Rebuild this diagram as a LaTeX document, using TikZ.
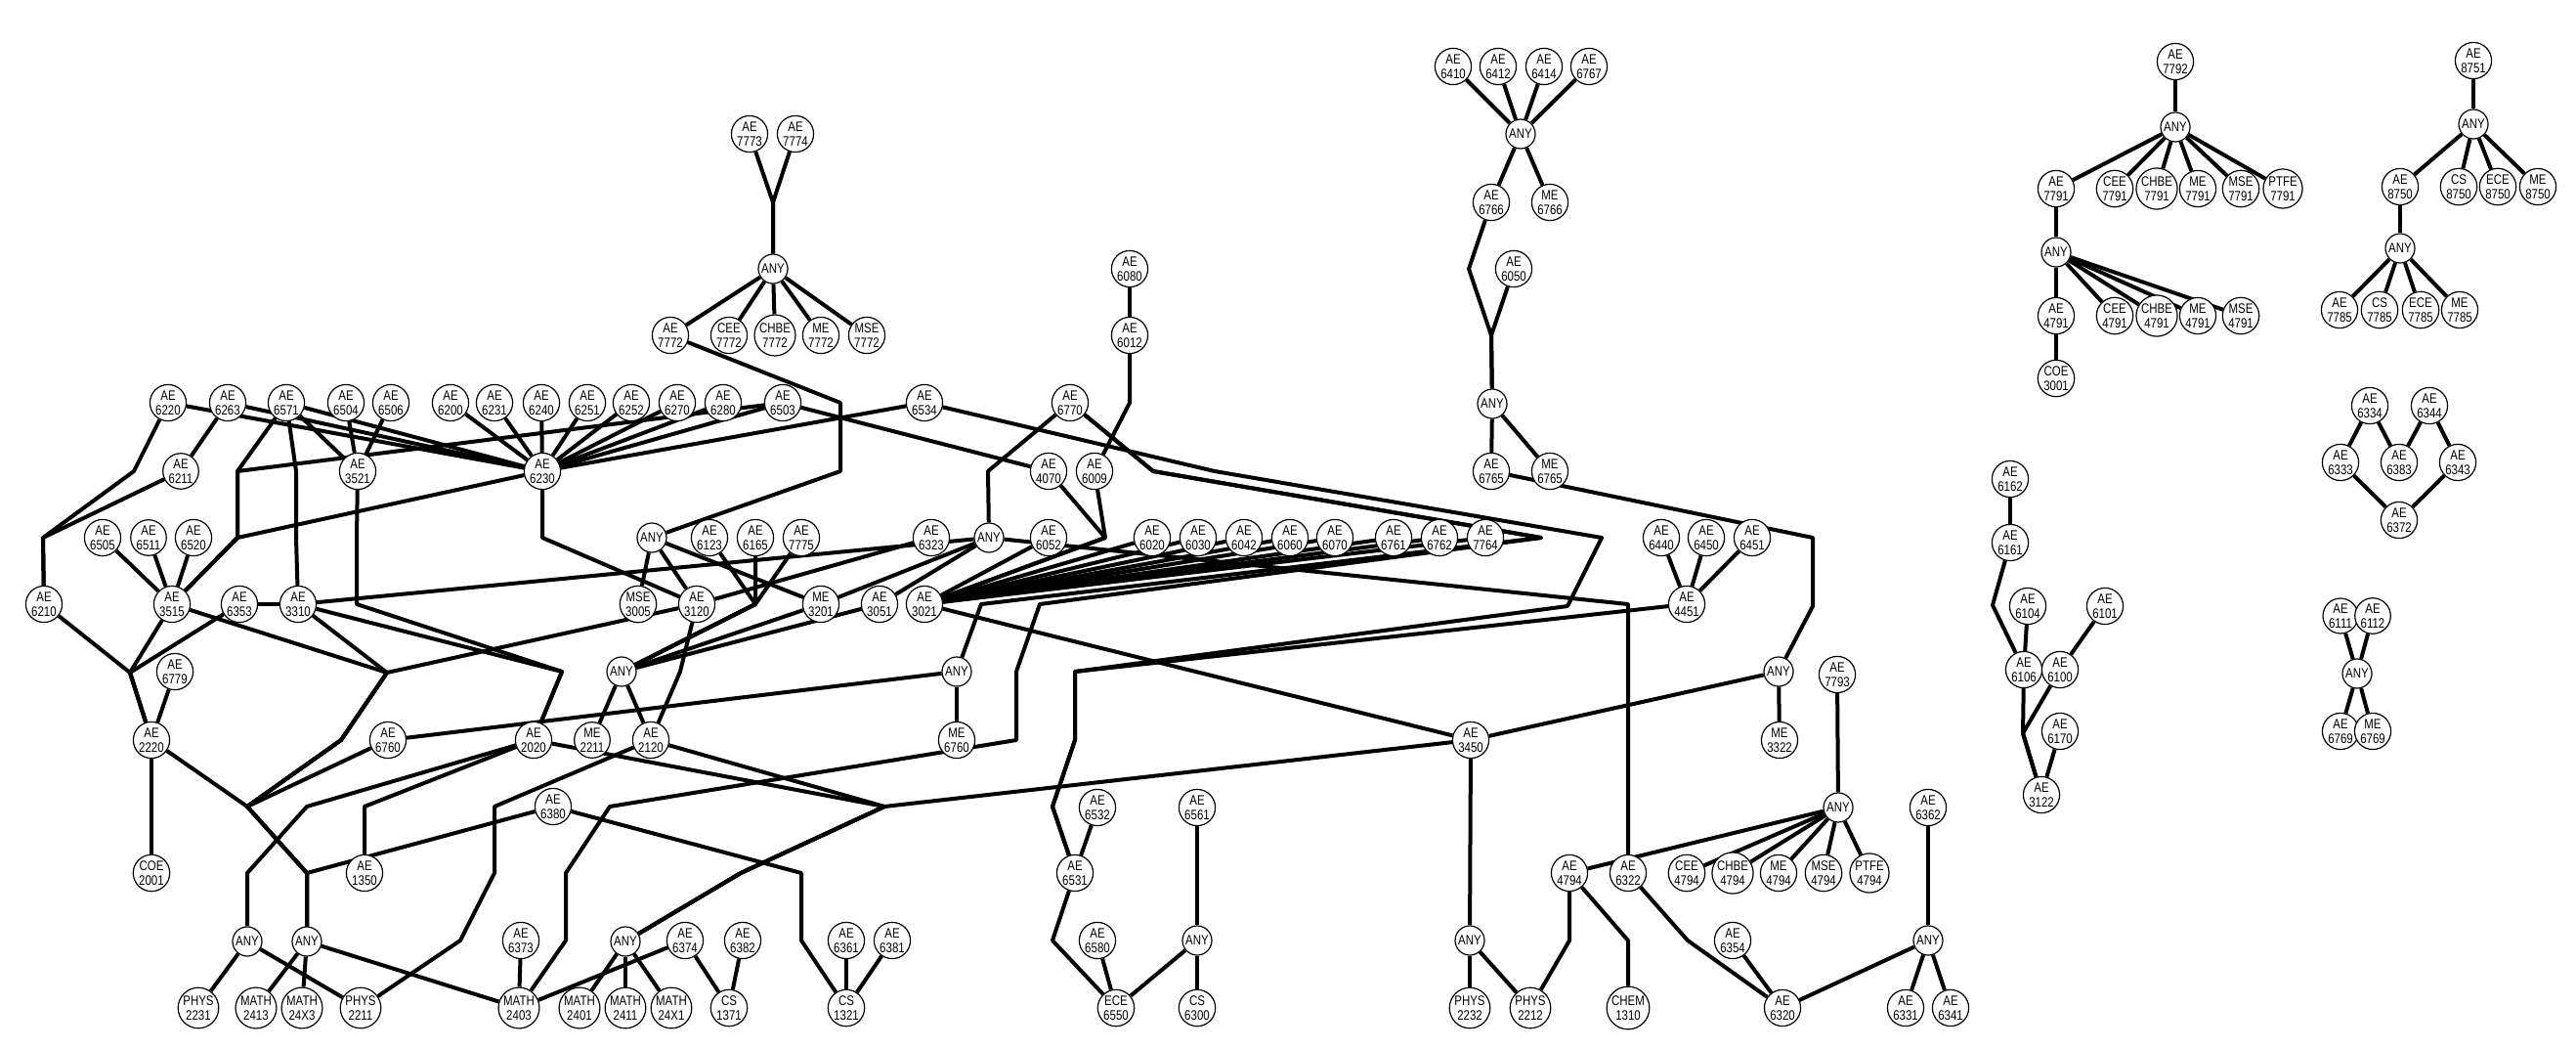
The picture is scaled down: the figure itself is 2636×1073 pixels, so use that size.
\documentclass[tikz,border=0pt]{standalone}
\usepackage{fontspec}
\setmainfont{Liberation Sans}[FakeStretch=0.82]
\usetikzlibrary{shapes.geometric}
\pgfdeclarelayer{bg}
\pgfsetlayers{bg,main}
\tikzset{
  crs/.style={circle, draw=black, line width=1.2pt, fill=white, inner sep=0.6pt, minimum size=30pt, align=center, font=\fontsize{14}{15}\selectfont},
  link/.style={line width=4pt, line join=round}
}

\begin{document}
\begin{tikzpicture}[x=1pt,y=-1pt]
\useasboundingbox (0,0) rectangle (2636,1073);
\node[crs] (ae6410) at (1487,68) {AE\\6410};
\node[crs] (ae6412) at (1533,68) {AE\\6412};
\node[crs] (ae6414) at (1580,68) {AE\\6414};
\node[crs] (ae6767) at (1626,68) {AE\\6767};
\node[crs] (ae7792) at (2226,63) {AE\\7792};
\node[crs] (ae8751) at (2531,62) {AE\\8751};
\node[crs] (ae7773) at (767,137) {AE\\7773};
\node[crs] (ae7774) at (814,137) {AE\\7774};
\node[crs] (anyM) at (1556,137) {ANY};
\node[crs] (anyP) at (2226,130) {ANY};
\node[crs] (anyQ) at (2531,127) {ANY};
\node[crs] (ae6766) at (1526,207) {AE\\6766};
\node[crs] (me6766) at (1586,207) {ME\\6766};
\node[crs] (ae7791) at (2104,193) {AE\\7791};
\node[crs] (cee7791) at (2164,193) {CEE\\7791};
\node[crs] (chbe7791) at (2207,193) {CHBE\\7791};
\node[crs] (me7791) at (2249,193) {ME\\7791};
\node[crs] (mse7791) at (2293,193) {MSE\\7791};
\node[crs] (ptfe7791) at (2336,193) {PTFE\\7791};
\node[crs] (ae8750) at (2456,191) {AE\\8750};
\node[crs] (cs8750) at (2516,191) {CS\\8750};
\node[crs] (ece8750) at (2556,191) {ECE\\8750};
\node[crs] (me8750) at (2597,191) {ME\\8750};
\node[crs] (any7772) at (791,275) {ANY};
\node[crs] (ae6080) at (1156,275) {AE\\6080};
\node[crs] (ae6050) at (1549,275) {AE\\6050};
\node[crs] (anyR) at (2104,258) {ANY};
\node[crs] (anyS) at (2456,254) {ANY};
\node[crs] (ae7772) at (686,343) {AE\\7772};
\node[crs] (cee7772) at (746,343) {CEE\\7772};
\node[crs] (chbe7772) at (793,343) {CHBE\\7772};
\node[crs] (me7772) at (840,343) {ME\\7772};
\node[crs] (mse7772) at (887,343) {MSE\\7772};
\node[crs] (ae6012) at (1156,343) {AE\\6012};
\node[crs] (ae4791) at (2104,323) {AE\\4791};
\node[crs] (cee4791) at (2164,323) {CEE\\4791};
\node[crs] (chbe4791) at (2207,323) {CHBE\\4791};
\node[crs] (me4791) at (2249,323) {ME\\4791};
\node[crs] (mse4791) at (2293,323) {MSE\\4791};
\node[crs] (ae7785) at (2394,317) {AE\\7785};
\node[crs] (cs7785) at (2435,317) {CS\\7785};
\node[crs] (ece7785) at (2477,317) {ECE\\7785};
\node[crs] (me7785) at (2517,317) {ME\\7785};
\node[crs] (ae6220) at (172,412) {AE\\6220};
\node[crs] (ae6263) at (233,412) {AE\\6263};
\node[crs] (ae6571) at (293,412) {AE\\6571};
\node[crs] (ae6504) at (354,412) {AE\\6504};
\node[crs] (ae6506) at (400,412) {AE\\6506};
\node[crs] (ae6200) at (461,412) {AE\\6200};
\node[crs] (ae6231) at (506,412) {AE\\6231};
\node[crs] (ae6240) at (554,412) {AE\\6240};
\node[crs] (ae6251) at (601,412) {AE\\6251};
\node[crs] (ae6252) at (646,412) {AE\\6252};
\node[crs] (ae6270) at (693,412) {AE\\6270};
\node[crs] (ae6280) at (740,412) {AE\\6280};
\node[crs] (ae6503) at (801,412) {AE\\6503};
\node[crs] (ae6534) at (946,412) {AE\\6534};
\node[crs] (ae6770) at (1095,412) {AE\\6770};
\node[crs] (anyN) at (1527,413) {ANY};
\node[crs] (coe3001) at (2104,387) {COE\\3001};
\node[crs] (ae6334) at (2425,415) {AE\\6334};
\node[crs] (ae6344) at (2486,415) {AE\\6344};
\node[crs] (ae6211) at (185,482) {AE\\6211};
\node[crs] (ae3521) at (366,482) {AE\\3521};
\node[crs] (ae6230) at (555,482) {AE\\6230};
\node[crs] (ae4070) at (1073,482) {AE\\4070};
\node[crs] (ae6009) at (1120,482) {AE\\6009};
\node[crs] (ae6765) at (1526,482) {AE\\6765};
\node[crs] (me6765) at (1586,482) {ME\\6765};
\node[crs] (ae6333) at (2395,473) {AE\\6333};
\node[crs] (ae6383) at (2455,473) {AE\\6383};
\node[crs] (ae6343) at (2515,473) {AE\\6343};
\node[crs] (ae6162) at (2057,490) {AE\\6162};
\node[crs] (ae6505) at (105,550) {AE\\6505};
\node[crs] (ae6511) at (152,550) {AE\\6511};
\node[crs] (ae6520) at (198,550) {AE\\6520};
\node[crs] (anyA) at (667,550) {ANY};
\node[crs] (ae6123) at (726,550) {AE\\6123};
\node[crs] (ae6165) at (773,550) {AE\\6165};
\node[crs] (ae7775) at (820,550) {AE\\7775};
\node[crs] (ae6323) at (953,550) {AE\\6323};
\node[crs] (anyB) at (1012,550) {ANY};
\node[crs] (ae6052) at (1073,550) {AE\\6052};
\node[crs] (ae6020) at (1179,550) {AE\\6020};
\node[crs] (ae6030) at (1226,550) {AE\\6030};
\node[crs] (ae6042) at (1273,550) {AE\\6042};
\node[crs] (ae6060) at (1320,550) {AE\\6060};
\node[crs] (ae6070) at (1366,550) {AE\\6070};
\node[crs] (ae6761) at (1426,550) {AE\\6761};
\node[crs] (ae6762) at (1473,550) {AE\\6762};
\node[crs] (ae7764) at (1520,550) {AE\\7764};
\node[crs] (ae6440) at (1700,550) {AE\\6440};
\node[crs] (ae6450) at (1746,550) {AE\\6450};
\node[crs] (ae6451) at (1793,550) {AE\\6451};
\node[crs] (ae6372) at (2455,532) {AE\\6372};
\node[crs] (ae6161) at (2057,555) {AE\\6161};
\node[crs] (ae6210) at (45,618) {AE\\6210};
\node[crs] (ae3515) at (176,618) {AE\\3515};
\node[crs] (ae6353) at (245,618) {AE\\6353};
\node[crs] (ae3310) at (305,618) {AE\\3310};
\node[crs] (mse3005) at (653,618) {MSE\\3005};
\node[crs] (ae3120) at (713,618) {AE\\3120};
\node[crs] (me3201) at (840,618) {ME\\3201};
\node[crs] (ae3051) at (900,618) {AE\\3051};
\node[crs] (ae3021) at (946,618) {AE\\3021};
\node[crs] (ae4451) at (1726,618) {AE\\4451};
\node[crs] (ae6104) at (2075,620) {AE\\6104};
\node[crs] (ae6101) at (2154,620) {AE\\6101};
\node[crs] (ae6111) at (2395,630) {AE\\6111};
\node[crs] (ae6112) at (2428,630) {AE\\6112};
\node[crs] (ae6779) at (179,687) {AE\\6779};
\node[crs] (anyC) at (636,687) {ANY};
\node[crs] (anyD) at (979,687) {ANY};
\node[crs] (anyE) at (1820,687) {ANY};
\node[crs] (ae7793) at (1880,690) {AE\\7793};
\node[crs] (ae6106) at (2071,685) {AE\\6106};
\node[crs] (ae6100) at (2108,685) {AE\\6100};
\node[crs] (anyT) at (2412,689) {ANY};
\node[crs] (ae2220) at (155,757) {AE\\2220};
\node[crs] (ae6760) at (397,757) {AE\\6760};
\node[crs] (ae2020) at (546,757) {AE\\2020};
\node[crs] (me2211) at (606,757) {ME\\2211};
\node[crs] (ae2120) at (666,757) {AE\\2120};
\node[crs] (me6760) at (979,757) {ME\\6760};
\node[crs] (ae3450) at (1505,757) {AE\\3450};
\node[crs] (me3322) at (1821,757) {ME\\3322};
\node[crs] (ae6170) at (2108,748) {AE\\6170};
\node[crs] (ae6769) at (2395,748) {AE\\6769};
\node[crs] (me6769) at (2428,748) {ME\\6769};
\node[crs] (ae6380) at (566,825) {AE\\6380};
\node[crs] (ae6532) at (1123,826) {AE\\6532};
\node[crs] (ae6561) at (1225,826) {AE\\6561};
\node[crs] (anyF) at (1881,826) {ANY};
\node[crs] (ae6362) at (1973,826) {AE\\6362};
\node[crs] (ae3122) at (2089,813) {AE\\3122};
\node[crs] (coe2001) at (155,893) {COE\\2001};
\node[crs] (ae1350) at (373,893) {AE\\1350};
\node[crs] (ae6531) at (1100,893) {AE\\6531};
\node[crs] (ae4794) at (1606,893) {AE\\4794};
\node[crs] (ae6322) at (1666,893) {AE\\6322};
\node[crs] (cee4794) at (1726,893) {CEE\\4794};
\node[crs] (chbe4794) at (1773,893) {CHBE\\4794};
\node[crs] (me4794) at (1820,893) {ME\\4794};
\node[crs] (mse4794) at (1866,893) {MSE\\4794};
\node[crs] (ptfe4794) at (1913,893) {PTFE\\4794};
\node[crs] (anyG) at (253,963) {ANY};
\node[crs] (anyH) at (314,963) {ANY};
\node[crs] (ae6373) at (533,962) {AE\\6373};
\node[crs] (anyI) at (640,963) {ANY};
\node[crs] (ae6374) at (701,962) {AE\\6374};
\node[crs] (ae6382) at (760,962) {AE\\6382};
\node[crs] (ae6361) at (866,962) {AE\\6361};
\node[crs] (ae6381) at (913,962) {AE\\6381};
\node[crs] (ae6580) at (1123,962) {AE\\6580};
\node[crs] (anyJ) at (1225,962) {ANY};
\node[crs] (anyK) at (1504,962) {ANY};
\node[crs] (ae6354) at (1773,962) {AE\\6354};
\node[crs] (anyL) at (1973,962) {ANY};
\node[crs] (phys2231) at (203,1031) {PHYS\\2231};
\node[crs] (math2413) at (262,1031) {MATH\\2413};
\node[crs] (math24x3) at (309,1031) {MATH\\24X3};
\node[crs] (phys2211) at (369,1031) {PHYS\\2211};
\node[crs] (math2403) at (531,1031) {MATH\\2403};
\node[crs] (math2401) at (593,1031) {MATH\\2401};
\node[crs] (math2411) at (640,1031) {MATH\\2411};
\node[crs] (math24x1) at (687,1031) {MATH\\24X1};
\node[crs] (cs1371) at (746,1031) {CS\\1371};
\node[crs] (cs1321) at (866,1031) {CS\\1321};
\node[crs] (ece6550) at (1142,1031) {ECE\\6550};
\node[crs] (cs6300) at (1225,1031) {CS\\6300};
\node[crs] (phys2232) at (1504,1031) {PHYS\\2232};
\node[crs] (phys2212) at (1566,1031) {PHYS\\2212};
\node[crs] (chem1310) at (1666,1031) {CHEM\\1310};
\node[crs] (ae6320) at (1824,1031) {AE\\6320};
\node[crs] (ae6331) at (1950,1031) {AE\\6331};
\node[crs] (ae6341) at (1996,1031) {AE\\6341};

\begin{pgfonlayer}{bg}
\draw[link] (ae7773) -- (791,207) -- (any7772);
\draw[link] (ae7774) -- (791,207) -- (any7772);
\draw[link] (any7772) -- (ae7772);
\draw[link] (any7772) -- (cee7772);
\draw[link] (any7772) -- (chbe7772);
\draw[link] (any7772) -- (me7772);
\draw[link] (any7772) -- (mse7772);
\draw[link] (ae7772) -- (860,412) -- (860,482) -- (anyA);
\draw[link] (ae6080) -- (ae6012);
\draw[link] (ae6012) -- (1156,412) -- (ae6009);
\draw[link] (ae6410) -- (anyM);
\draw[link] (ae6412) -- (anyM);
\draw[link] (ae6414) -- (anyM);
\draw[link] (ae6767) -- (anyM);
\draw[link] (anyM) -- (ae6766);
\draw[link] (anyM) -- (me6766);
\draw[link] (ae6766) -- (1503,275) -- (1526,343) -- (anyN);
\draw[link] (ae6050) -- (1526,343) -- (anyN);
\draw[link] (anyN) -- (ae6765);
\draw[link] (anyN) -- (me6765);
\draw[link] (ae6765) -- (1855,550) -- (1855,620) -- (anyE);
\draw[link] (anyE) -- (me3322);
\draw[link] (anyE) -- (ae3450);
\draw[link] (ae6440) -- (ae4451);
\draw[link] (ae6450) -- (ae4451);
\draw[link] (ae6451) -- (ae4451);
\draw[link] (ae4451) -- (1100,687) -- (1100,757) -- (1077,825) -- (ae6531);
\draw[link] (ae6534) -- (1243,482) -- (1639,550) -- (1604,620) -- (1100,687) -- (1100,757) -- (1077,825) -- (ae6531);
\draw[link] (ae6770) -- (1011,482) -- (anyB);
\draw[link] (ae6770) -- (1180,482) -- (1577,550) -- (1064,618) -- (1040,687) -- (1040,757) -- (624,825) -- (579,893) -- (579,962) -- (math2403);
\draw[link] (ae6770) -- (1180,482) -- (1577,550) -- (1004,618) -- (anyD);
\draw[link] (anyD) -- (me6760);
\draw[link] (anyD) -- (ae6760);
\draw[link] (ae6531) -- (1077,962) -- (ece6550);
\draw[link] (ae6532) -- (ae6531);
\draw[link] (ae6580) -- (ece6550);
\draw[link] (anyJ) -- (ece6550);
\draw[link] (ae6561) -- (1225,893) -- (anyJ);
\draw[link] (anyJ) -- (cs6300);
\draw[link] (ae3021) -- (ae3450);
\draw[link] (ae3450) -- (anyK);
\draw[link] (anyK) -- (phys2232);
\draw[link] (anyK) -- (phys2212);
\draw[link] (ae3450) -- (905,825) -- (758,893) -- (anyI);
\draw[link] (ae2020) -- (905,825) -- (758,893) -- (anyI);
\draw[link] (ae2120) -- (905,825) -- (758,893) -- (anyI);
\draw[link] (ae4794) -- (1606,962) -- (phys2212);
\draw[link] (ae4794) -- (1666,962) -- (chem1310);
\draw[link] (ae6322) -- (1727,962) -- (ae6320);
\draw[link] (anyF) -- (ae4794);
\draw[link] (anyF) -- (cee4794);
\draw[link] (anyF) -- (chbe4794);
\draw[link] (anyF) -- (me4794);
\draw[link] (anyF) -- (mse4794);
\draw[link] (anyF) -- (ptfe4794);
\draw[link] (ae7793) -- (anyF);
\draw[link] (ae6354) -- (ae6320);
\draw[link] (anyL) -- (ae6320);
\draw[link] (anyL) -- (ae6331);
\draw[link] (anyL) -- (ae6341);
\draw[link] (ae6362) -- (anyL);
\draw[link] (anyB) -- (1666,618) -- (ae6322);
\draw[link] (ae4070) -- (1131,550) -- (ae3021);
\draw[link] (ae6009) -- (1131,550) -- (ae3021);
\draw[link] (ae6503) -- (ae4070);
\draw[link] (ae3021) -- (ae6052);
\draw[link] (ae3021) -- (ae6020);
\draw[link] (ae3021) -- (ae6030);
\draw[link] (ae3021) -- (ae6042);
\draw[link] (ae3021) -- (ae6060);
\draw[link] (ae3021) -- (ae6070);
\draw[link] (ae3021) -- (ae6761);
\draw[link] (ae3021) -- (ae6762);
\draw[link] (ae3021) -- (ae7764);
\draw[link] (anyB) -- (me3201);
\draw[link] (anyB) -- (ae3051);
\draw[link] (anyB) -- (ae3310);
\draw[link] (ae6323) -- (ae3120);
\draw[link] (anyA) -- (mse3005);
\draw[link] (anyA) -- (ae3120);
\draw[link] (anyA) -- (me3201);
\draw[link] (ae6123) -- (773,618) -- (anyC);
\draw[link] (ae6165) -- (773,618) -- (anyC);
\draw[link] (ae7775) -- (773,618) -- (anyC);
\draw[link] (anyC) -- (me2211);
\draw[link] (anyC) -- (ae2120);
\draw[link] (anyC) -- (me3201);
\draw[link] (anyC) -- (ae3051);
\draw[link] (ae3120) -- (696,687) -- (ae2120);
\draw[link] (ae2120) -- (506,825) -- (506,893) -- (471,962) -- (phys2211);
\draw[link] (ae6380) -- (820,893) -- (820,962) -- (cs1321);
\draw[link] (ae6380) -- (314,893) -- (anyH);
\draw[link] (ae6361) -- (cs1321);
\draw[link] (ae6381) -- (cs1321);
\draw[link] (ae6374) -- (cs1371);
\draw[link] (ae6382) -- (cs1371);
\draw[link] (ae6374) -- (math2403);
\draw[link] (ae6373) -- (math2403);
\draw[link] (anyI) -- (math2401);
\draw[link] (anyI) -- (math2411);
\draw[link] (anyI) -- (math24x1);
\draw[link] (anyH) -- (math2413);
\draw[link] (anyH) -- (math24x3);
\draw[link] (anyH) -- (math2403);
\draw[link] (anyG) -- (phys2231);
\draw[link] (anyG) -- (phys2211);
\draw[link] (ae2020) -- (314,825) -- (253,893) -- (anyG);
\draw[link] (ae2020) -- (373,825) -- (ae1350);
\draw[link] (ae2220) -- (253,825) -- (314,893) -- (anyH);
\draw[link] (ae6760) -- (253,825) -- (314,893) -- (anyH);
\draw[link] (ae3515) -- (396,688) -- (349,757) -- (253,825) -- (314,893) -- (anyH);
\draw[link] (ae3310) -- (396,688) -- (349,757) -- (253,825);
\draw[link] (ae3120) -- (396,688) -- (349,757) -- (253,825);
\draw[link] (ae2220) -- (155,825) -- (coe2001);
\draw[link] (ae6779) -- (ae2220);
\draw[link] (ae6210) -- (133,688) -- (ae2220);
\draw[link] (ae3515) -- (133,688) -- (ae2220);
\draw[link] (ae6353) -- (133,688) -- (ae2220);
\draw[link] (ae6353) -- (ae3310);
\draw[link] (ae3521) -- (365,550) -- (365,618) -- (575,687) -- (ae2020);
\draw[link] (ae3310) -- (575,687) -- (ae2020);
\draw[link] (ae6571) -- (303,482) -- (303,550) -- (ae3310);
\draw[link] (ae6571) -- (243,482) -- (243,550) -- (ae3515);
\draw[link] (ae6503) -- (243,482) -- (243,550) -- (ae3515);
\draw[link] (ae6230) -- (243,550) -- (ae3515);
\draw[link] (ae6230) -- (555,550) -- (ae3120);
\draw[link] (ae6505) -- (ae3515);
\draw[link] (ae6511) -- (ae3515);
\draw[link] (ae6520) -- (ae3515);
\draw[link] (ae6220) -- (137,482) -- (44,550) -- (ae6210);
\draw[link] (ae6211) -- (44,550) -- (ae6210);
\draw[link] (ae6263) -- (ae6211);
\draw[link] (ae6220) -- (ae6230);
\draw[link] (ae6263) -- (ae6230);
\draw[link] (ae6571) -- (ae6230);
\draw[link] (ae6571) -- (ae3521);
\draw[link] (ae6504) -- (ae3521);
\draw[link] (ae6506) -- (ae3521);
\draw[link] (ae6200) -- (ae6230);
\draw[link] (ae6231) -- (ae6230);
\draw[link] (ae6240) -- (ae6230);
\draw[link] (ae6251) -- (ae6230);
\draw[link] (ae6252) -- (ae6230);
\draw[link] (ae6270) -- (ae6230);
\draw[link] (ae6280) -- (ae6230);
\draw[link] (ae6503) -- (ae6230);
\draw[link] (ae6534) -- (ae6230);
\draw[link] (ae7792) -- (anyP);
\draw[link] (anyP) -- (ae7791);
\draw[link] (anyP) -- (cee7791);
\draw[link] (anyP) -- (chbe7791);
\draw[link] (anyP) -- (me7791);
\draw[link] (anyP) -- (mse7791);
\draw[link] (anyP) -- (ptfe7791);
\draw[link] (ae7791) -- (anyR);
\draw[link] (anyR) -- (ae4791);
\draw[link] (anyR) -- (cee4791);
\draw[link] (anyR) -- (chbe4791);
\draw[link] (anyR) -- (me4791);
\draw[link] (anyR) -- (mse4791);
\draw[link] (ae4791) -- (coe3001);
\draw[link] (ae8751) -- (anyQ);
\draw[link] (anyQ) -- (ae8750);
\draw[link] (anyQ) -- (cs8750);
\draw[link] (anyQ) -- (ece8750);
\draw[link] (anyQ) -- (me8750);
\draw[link] (ae8750) -- (anyS);
\draw[link] (anyS) -- (ae7785);
\draw[link] (anyS) -- (cs7785);
\draw[link] (anyS) -- (ece7785);
\draw[link] (anyS) -- (me7785);
\draw[link] (ae6334) -- (ae6333);
\draw[link] (ae6334) -- (ae6383);
\draw[link] (ae6344) -- (ae6383);
\draw[link] (ae6344) -- (ae6343);
\draw[link] (ae6333) -- (ae6372);
\draw[link] (ae6343) -- (ae6372);
\draw[link] (ae6162) -- (ae6161);
\draw[link] (ae6161) -- (2039,619) -- (ae6106);
\draw[link] (ae6104) -- (ae6106);
\draw[link] (ae6101) -- (ae6100);
\draw[link] (ae6106) -- (2070,750) -- (ae3122);
\draw[link] (ae6100) -- (2070,750) -- (ae3122);
\draw[link] (ae6170) -- (ae3122);
\draw[link] (ae6111) -- (anyT);
\draw[link] (ae6112) -- (anyT);
\draw[link] (anyT) -- (ae6769);
\draw[link] (anyT) -- (me6769);
\end{pgfonlayer}
\end{tikzpicture}
\end{document}
